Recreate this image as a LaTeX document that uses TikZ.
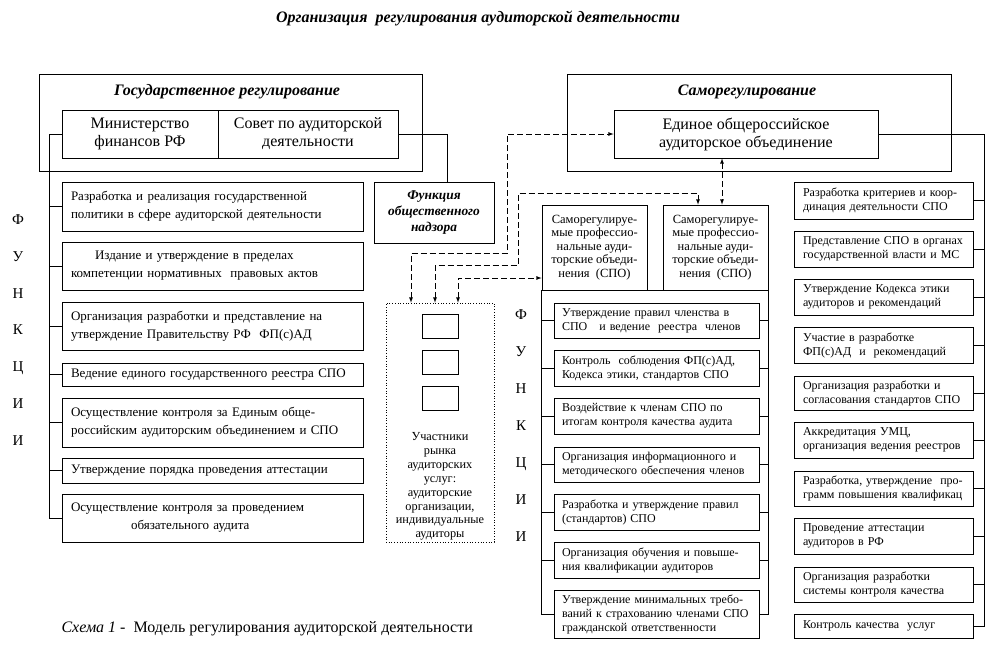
\documentclass[tikz,border=0pt]{standalone}
\usepackage{fontspec}
\setmainfont{Liberation Serif}

\begin{document}
\begin{tikzpicture}[x=1pt,y=-1pt]
\path[use as bounding box] (0,0) rectangle (987,664);
\tikzstyle{link}=[line width=0.8pt]
\tikzstyle{dashlink}=[latex-latex, line width=0.8pt, dash pattern=on 6pt off 3pt]
\tikzstyle{frame}=[draw, line width=0.8pt, inner sep=0pt]
\tikzstyle{head}=[font=\fontsize{16}{18}\selectfont\bfseries\itshape]
\tikzstyle{org}=[draw, line width=0.8pt, inner sep=0pt, align=center, font=\fontsize{16}{18}\selectfont]
\tikzstyle{lfun}=[draw, line width=0.8pt, text width=283pt, inner xsep=9pt, inner ysep=0pt, align=left, font=\fontsize{13}{18}\selectfont]
\tikzstyle{mfun}=[draw, line width=0.8pt, text width=189pt, inner xsep=8pt, inner ysep=0pt, align=left, font=\fontsize{12}{14}\selectfont]
\tikzstyle{rfun}=[draw, line width=0.8pt, text width=161pt, inner xsep=9pt, inner ysep=0pt, align=left, font=\fontsize{12}{14}\selectfont]
\tikzstyle{spo}=[draw, line width=0.8pt, inner sep=0pt, minimum width=105pt, minimum height=85pt, align=center, font=\fontsize{12.5}{13.5}\selectfont]
\tikzstyle{letters}=[align=center, font=\fontsize{15}{36.7}\selectfont]

\node[head] (title) at (478,18) {Организация\ \ регулирования аудиторской деятельности};

\node[frame, minimum width=383pt, minimum height=97pt] (gov) at (230.5,122.5) {};
\node[head] (govtitle) at (227,92) {Государственное регулирование};
\node[org, minimum width=156pt, minimum height=48pt] (minfin) at (140,134) {Министерство\\финансов РФ};
\node[org, minimum width=180pt, minimum height=48pt] (sovet) at (308,134) {Совет по аудиторской\\деятельности};
\node[org, minimum width=120pt, minimum height=61pt, font=\fontsize{13.4}{16}\selectfont\bfseries\itshape] (nadzor) at (434,212.5) {Функция\\общественного\\надзора};

\node[frame, minimum width=384pt, minimum height=97pt] (selfreg) at (759,122.5) {};
\node[head] (selftitle) at (747,92) {Саморегулирование};
\node[org, minimum width=264pt, minimum height=48pt] (eoao) at (746,134) {Единое общероссийское\\аудиторское объединение};

\node[spo] (spoa) at (594.5,247.5) {Саморегулируе-\\мые профессио-\\нальные ауди-\\торские объеди-\\нения\ \ (СПО)};
\node[spo] (spob) at (715.5,247.5) {Саморегулируе-\\мые профессио-\\нальные ауди-\\торские объеди-\\нения\ \ (СПО)};

\node[draw, dotted, line width=0.7pt, minimum width=108pt, minimum height=239pt] (market) at (440,422.5) {};
\node[frame, minimum width=36pt, minimum height=24pt] (sqa) at (440,326) {};
\node[frame, minimum width=36pt, minimum height=24pt] (sqb) at (440,362) {};
\node[frame, minimum width=36pt, minimum height=24pt] (sqc) at (440,398) {};
\begin{scope}
\clip (market.north west) rectangle (market.south east);
\node[align=center, font=\fontsize{12.3}{13.9}\selectfont] (markettext) at (440,486.5) {Участники\\рынка\\аудиторских\\услуг:\\аудиторские\\организации,\\индивидуальные\\аудиторы};
\end{scope}

\node[letters] (lletters) at (18,330) {Ф\\У\\Н\\К\\Ц\\И\\И};
\node[letters, font=\fontsize{15}{37}\selectfont] (mletters) at (521,426) {Ф\\У\\Н\\К\\Ц\\И\\И};

\node[lfun, minimum height=49pt] (lfa) at (212.5,206.5) {Разработка и реализация государственной\\политики в сфере аудиторской деятельности};
\node[lfun, minimum height=48pt] (lfb) at (212.5,266) {\hspace*{24pt}Издание и утверждение в пределах\\компетенции нормативных\ \ правовых актов};
\node[lfun, minimum height=48pt] (lfc) at (212.5,326) {Организация разработки и представление на\\утверждение Правительству РФ\ \ ФП(с)АД};
\node[lfun, minimum height=23pt] (lfd) at (212.5,374.5) {Ведение единого государственного реестра СПО};
\node[lfun, minimum height=49pt] (lfe) at (212.5,422.5) {Осуществление контроля за Единым обще-\\российским аудиторским объединением и СПО};
\node[lfun, minimum height=25pt] (lff) at (212.5,470.5) {Утверждение порядка проведения аттестации};
\node[lfun, minimum height=48pt] (lfg) at (212.5,518) {Осуществление контроля за проведением\\\hspace*{60pt}обязательного аудита};

\node[mfun, minimum height=35pt] (mfa) at (656.5,320.5) {Утверждение правил членства в\\СПО\ \ \ и ведение\ \ реестра\ \ членов};
\node[mfun, minimum height=36pt] (mfb) at (656.5,368) {Контроль\ \ соблюдения ФП(с)АД,\\Кодекса этики, стандартов СПО};
\node[mfun, minimum height=36pt] (mfc) at (656.5,416) {Воздействие к членам СПО по\\итогам контроля качества аудита};
\node[mfun, minimum height=35pt] (mfd) at (656.5,464.5) {Организация информационного и\\методического обеспечения членов};
\node[mfun, minimum height=36pt] (mfe) at (656.5,512) {Разработка и утверждение правил\\(стандартов) СПО};
\node[mfun, minimum height=36pt] (mff) at (656.5,560) {Организация обучения и повыше-\\ния квалификации аудиторов};
\node[mfun, minimum height=48pt] (mfg) at (656.5,614) {Утверждение минимальных требо-\\ваний к страхованию членами СПО\\гражданской ответственности};

\node[rfun, minimum height=37pt] (rfa) at (883.5,200.5) {Разработка критериев и коор-\\динация деятельности СПО};
\node[rfun, minimum height=36pt] (rfb) at (883.5,249) {Представление СПО в органах\\государственной власти и МС};
\node[rfun, minimum height=36pt] (rfc) at (883.5,297) {Утверждение Кодекса этики\\аудиторов и рекомендаций};
\node[rfun, minimum height=36pt] (rfd) at (883.5,345) {Участие в разработке\\ФП(с)АД\ \ и\ \ рекомендаций};
\node[rfun, minimum height=34pt] (rfe) at (883.5,393) {Организация разработки и\\согласования стандартов СПО};
\node[rfun, minimum height=36pt] (rff) at (883.5,440) {Аккредитация УМЦ,\\организация ведения реестров};
\node[rfun, minimum height=35pt] (rfg) at (883.5,488.5) {Разработка, утверждение\ \ про-\\грамм повышения квалификац};
\node[rfun, minimum height=36pt] (rfh) at (883.5,536) {Проведение аттестации\\аудиторов в РФ};
\node[rfun, minimum height=35pt] (rfi) at (883.5,584.5) {Организация разработки\\системы контроля качества};
\node[rfun, minimum height=24pt] (rfj) at (883.5,626) {Контроль качества\ \ услуг};

\node[anchor=west, font=\fontsize{16}{18}\selectfont] (caption) at (58,629) {\textit{Схема 1} -\ \ Модель регулирования аудиторской деятельности};

\draw[link] (minfin.west) -- ++(-12,0) |- (lfg.west);
\draw[link] (lfa.west) -- ++(-12,0);
\draw[link] (lfb.west) -- ++(-12,0);
\draw[link] (lfc.west) -- ++(-12,0);
\draw[link] (lfd.west) -- ++(-12,0);
\draw[link] (lfe.west) -- ++(-12,0);
\draw[link] (lff.west) -- ++(-12,0);
\draw[link] (sovet.east) -| ([xshift=13pt]nadzor.north);

\draw[link] (eoao.east) -| ([xshift=11pt]rfj.east) -- (rfj.east);
\draw[link] (rfa.east) -- ++(11,0);
\draw[link] (rfb.east) -- ++(11,0);
\draw[link] (rfc.east) -- ++(11,0);
\draw[link] (rfd.east) -- ++(11,0);
\draw[link] (rfe.east) -- ++(11,0);
\draw[link] (rff.east) -- ++(11,0);
\draw[link] (rfg.east) -- ++(11,0);
\draw[link] (rfh.east) -- ++(11,0);
\draw[link] (rfi.east) -- ++(11,0);

\draw[link] (spoa.south west) |- (mfg.west);
\draw[link] (spob.south east) |- (mfg.east);
\draw[link] (spoa.south east) -- (spob.south west);
\draw[link] (mfa.west) -- (mfa.west -| spoa.west);
\draw[link] (mfb.west) -- (mfb.west -| spoa.west);
\draw[link] (mfc.west) -- (mfc.west -| spoa.west);
\draw[link] (mfd.west) -- (mfd.west -| spoa.west);
\draw[link] (mfe.west) -- (mfe.west -| spoa.west);
\draw[link] (mff.west) -- (mff.west -| spoa.west);
\draw[link] (mfa.east) -- (mfa.east -| spob.east);
\draw[link] (mfb.east) -- (mfb.east -| spob.east);
\draw[link] (mfc.east) -- (mfc.east -| spob.east);
\draw[link] (mfd.east) -- (mfd.east -| spob.east);
\draw[link] (mfe.east) -- (mfe.east -| spob.east);
\draw[link] (mff.east) -- (mff.east -| spob.east);

\draw[dashlink] ([xshift=-29pt]market.north) |- ++(96,-49) |- (eoao.west);
\draw[dashlink] ([xshift=-5pt]market.north) |- ++(83,-37) |- ++(180,-72) -- ([xshift=-17.5pt]spob.north);
\draw[dashlink] ([xshift=18pt]market.north) |- ([yshift=-30.5pt]spoa.west);
\draw[dashlink] ([xshift=-24pt]eoao.south) -- ([xshift=6.5pt]spob.north);
\end{tikzpicture}
\end{document}
